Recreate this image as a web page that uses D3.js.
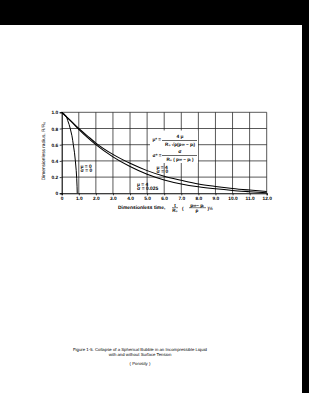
<!DOCTYPE html>
<html>
<head>
<meta charset="utf-8">
<script src="https://cdn.jsdelivr.net/npm/d3@7"></script>
<style>
  body { margin: 0; background: #000; }
  svg { display: block; }
  text { font-family: "Liberation Sans", Arial, sans-serif; fill: #000; text-rendering: geometricPrecision; }
</style>
</head>
<body>
<script>
//Width and height of the page
var w = 309;
var h = 393;

//Curve data (time, radius)
var tInviscid = [0, 0.2, 0.35, 0.5, 0.6, 0.68, 0.75, 0.8, 0.85, 0.88, 0.9, 0.91];
var rInviscid = [1, 0.97, 0.9, 0.8, 0.71, 0.6, 0.5, 0.4, 0.28, 0.18, 0.08, 0];

var tViscous = [0, 0.5, 1, 1.5, 2, 3, 4, 5, 6, 7, 8, 9, 10, 11, 12];
var rNoTension = [1, 0.9, 0.8, 0.71, 0.62, 0.48, 0.37, 0.28, 0.21, 0.16, 0.115, 0.085, 0.06, 0.04, 0.022];
var rTension = [1, 0.9, 0.79, 0.69, 0.6, 0.45, 0.33, 0.235, 0.165, 0.115, 0.08, 0.055, 0.035, 0.02, 0.006];

//Tick labels
var xTicks = [0, 1, 2, 3, 4, 5, 6, 7, 8, 9, 10, 11, 12];
var yTicks = [0, 0.2, 0.4, 0.6, 0.8, 1.0];

//Caption lines
var caption = [
  "Figure 1-5.  Collapse of a Spherical Bubble in an Incompressible Liquid",
  "with and without Surface Tension"
];

var zip = function (ts, rs) {
  return ts.map(function (t, i) { return { t: t, r: rs[i] }; });
};

var svg = d3.select("body").append("svg").attr("width", w).attr("height", h);

//White sheet
svg.append("rect").attr("x", 0).attr("y", 25).attr("width", 302).attr("height", h - 25).attr("fill", "#fff");

//Scales
var xScale = d3.scaleLinear().domain([0, 12]).range([61.7, 266.7]);
var yScale = d3.scaleLinear().domain([0, 1]).range([193.3, 112.3]);

//Grid
svg.append("g")
  .selectAll("line")
  .data(xTicks.slice(1))
  .enter()
  .append("line")
  .attr("x1", function (d) { return xScale(d); })
  .attr("x2", function (d) { return xScale(d); })
  .attr("y1", yScale(0))
  .attr("y2", yScale(1))
  .attr("stroke", "#222")
  .attr("stroke-width", 0.75);

svg.append("g")
  .selectAll("line")
  .data(yTicks.slice(1))
  .enter()
  .append("line")
  .attr("x1", xScale(0))
  .attr("x2", xScale(12))
  .attr("y1", function (d) { return yScale(d); })
  .attr("y2", function (d) { return yScale(d); })
  .attr("stroke", "#222")
  .attr("stroke-width", 0.75);

//Axes
var xAxis = d3.axisBottom(xScale).tickValues(xTicks).tickSize(2).tickPadding(1.5)
  .tickFormat(function (d) { return d === 0 ? "0" : d.toFixed(1); });
var yAxis = d3.axisLeft(yScale).tickValues(yTicks).tickSize(2).tickPadding(1.5)
  .tickFormat(function (d) { return d === 0 ? "0" : d.toFixed(1); });

var gx = svg.append("g").attr("transform", "translate(0," + yScale(0) + ")").call(xAxis);
var gy = svg.append("g").attr("transform", "translate(" + xScale(0) + ",0)").call(yAxis);
[gx, gy].forEach(function (g) {
  g.select(".domain").attr("stroke", "#000").attr("stroke-width", 1.1);
  g.selectAll(".tick line").attr("stroke", "#000").attr("stroke-width", 0.75);
  g.selectAll("text").attr("font-size", 4.8).attr("font-weight", "bold")
    .attr("font-family", "Liberation Sans, Arial, sans-serif").attr("fill", "#111");
});

//Curves
var line = d3.line()
  .x(function (d) { return xScale(d.t); })
  .y(function (d) { return yScale(d.r); })
  .curve(d3.curveMonotoneX);

var lineY = d3.line()
  .x(function (d) { return xScale(d.t); })
  .y(function (d) { return yScale(d.r); })
  .curve(d3.curveMonotoneY);

svg.append("path").datum(zip(tInviscid, rInviscid)).attr("d", lineY)
  .attr("fill", "none").attr("stroke", "#000").attr("stroke-width", 1);
svg.append("path").datum(zip(tViscous, rNoTension)).attr("d", line)
  .attr("fill", "none").attr("stroke", "#000").attr("stroke-width", 1.05);
svg.append("path").datum(zip(tViscous, rTension)).attr("d", line)
  .attr("fill", "none").attr("stroke", "#000").attr("stroke-width", 1.05);

//Curve labels
var label = function (x, y, lines) {
  var t = svg.append("text").attr("x", x).attr("y", y).attr("font-size", 4.9).attr("font-weight", "bold");
  lines.forEach(function (s, i) {
    t.append("tspan").attr("x", x).attr("dy", i === 0 ? 0 : 4.4).text(s);
  });
};
label(80.5, 168, ["\u03bc = 0", "\u03c3 = 0"]);
label(156.5, 169, ["\u03bc = 4", "\u03c3 = 0"]);
label(137, 186, ["\u03bc = 4", "\u03c3 = 0.025"]);

//Formula box
svg.append("rect").attr("x", 150).attr("y", 130.5).attr("width", 48).attr("height", 32.5).attr("fill", "#fff");
var f = svg.append("g").attr("font-size", 4.6).attr("font-weight", "bold");
f.append("text").attr("x", 152.5).attr("y", 141).text("\u03bc* =");
f.append("text").attr("x", 180).attr("y", 138).attr("text-anchor", "middle").attr("font-size", 4.8).text("4 \u03bc");
f.append("line").attr("x1", 162).attr("x2", 197).attr("y1", 140.5).attr("y2", 140.5).attr("stroke", "#000").attr("stroke-width", 0.6);
f.append("text").attr("x", 180).attr("y", 146).attr("text-anchor", "middle").text("R\u2080 \u221a\u03c1(p\u221e \u2212 p\u1d62)");
f.append("text").attr("x", 152.5).attr("y", 157).text("\u03c3* =");
f.append("text").attr("x", 180).attr("y", 153).attr("text-anchor", "middle").attr("font-size", 4.8).text("\u03c3");
f.append("line").attr("x1", 162).attr("x2", 197).attr("y1", 155.5).attr("y2", 155.5).attr("stroke", "#000").attr("stroke-width", 0.6);
f.append("text").attr("x", 180).attr("y", 161).attr("text-anchor", "middle").text("R\u2080 ( p\u221e \u2212 p\u1d62 )");

//Axis titles
svg.append("text").attr("x", 118).attr("y", 209).attr("font-size", 4.9).attr("font-weight", "bold").text("Dimensionless time,");
var xt = svg.append("g").attr("font-size", 4.6).attr("font-weight", "bold");
xt.append("text").attr("x", 175).attr("y", 206.5).attr("text-anchor", "middle").text("t");
xt.append("line").attr("x1", 172).attr("x2", 178).attr("y1", 207.7).attr("y2", 207.7).attr("stroke", "#000").attr("stroke-width", 0.5);
xt.append("text").attr("x", 175).attr("y", 212).attr("text-anchor", "middle").text("R\u2080");
xt.append("text").attr("x", 182).attr("y", 209.5).text("(");
xt.append("text").attr("x", 197).attr("y", 206.5).attr("text-anchor", "middle").text("p\u221e\u2212 p\u1d62");
xt.append("line").attr("x1", 189).attr("x2", 206).attr("y1", 207.7).attr("y2", 207.7).attr("stroke", "#000").attr("stroke-width", 0.5);
xt.append("text").attr("x", 197).attr("y", 212).attr("text-anchor", "middle").text("\u03c1");
xt.append("text").attr("x", 207.5).attr("y", 209.5).text(")\u00bd");

svg.append("text")
  .attr("transform", "translate(44.5,151) rotate(-90)")
  .attr("text-anchor", "middle")
  .attr("font-size", 4.8)
  .text("Dimensionless radius, R/R\u2080");

//Caption
svg.append("g")
  .selectAll("text")
  .data(caption)
  .enter()
  .append("text")
  .attr("x", 140)
  .attr("y", function (d, i) { return 351 + i * 5; })
  .attr("text-anchor", "middle")
  .attr("font-size", 4.3)
  .text(function (d) { return d; });

svg.append("text").attr("x", 140).attr("y", 365).attr("text-anchor", "middle").attr("font-size", 4.3).text("( Porosity )");
</script>
</body>
</html>
